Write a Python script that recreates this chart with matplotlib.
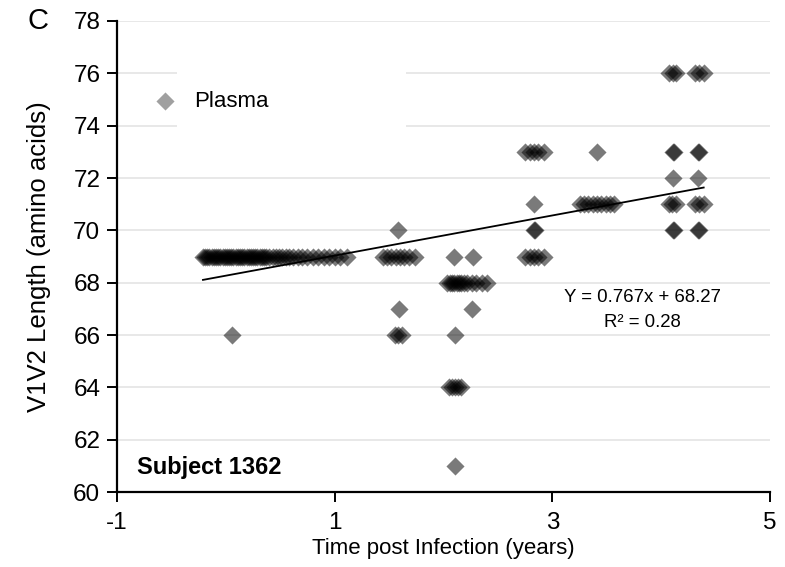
import matplotlib
matplotlib.use("Agg")
import matplotlib.pyplot as plt
from matplotlib.patches import Rectangle

plt.rcParams['font.family'] = ['Liberation Sans', 'DejaVu Sans']
plt.rcParams['axes.unicode_minus'] = False

# plasma V1V2 lengths (years post infection, amino acids)
x_69a = [-0.21, -0.19, -0.17, -0.15, -0.13, -0.11, -0.09, -0.07, -0.05, -0.03,
         -0.01, 0.01, 0.03, 0.05, 0.07, 0.09, 0.11, 0.13, 0.15, 0.17, 0.19,
         0.21, 0.23, 0.25, 0.27, 0.29, 0.31, 0.33, 0.35, 0.37, 0.40, 0.43,
         0.46, 0.49, 0.52, 0.55, 0.58, 0.62, 0.66, 0.70, 0.75, 0.80, 0.85,
         0.90, 0.95, 1.00, 1.05, 1.11]
x_66a = [0.06]
x_69b = [1.44, 1.48, 1.52, 1.56, 1.60, 1.64, 1.68, 1.74]
x_70b = [1.58]
x_67b = [1.59, 2.26]
x_66b = [1.55, 1.58, 1.62, 2.11]
x_69c = [2.10, 2.27]
x_68c = [2.03, 2.06, 2.08, 2.10, 2.12, 2.14, 2.16, 2.19, 2.22, 2.26, 2.30, 2.35, 2.40]
x_64c = [2.05, 2.08, 2.11, 2.13, 2.16]
x_61c = [2.11]
x_73d = [2.75, 2.79, 2.83, 2.87, 2.92, 3.41]
x_71d = [2.83]
x_70d = [2.83, 2.84]
x_69d = [2.75, 2.79, 2.83, 2.87, 2.92]
x_71e = [3.25, 3.29, 3.33, 3.37, 3.41, 3.45, 3.49, 3.53, 3.57]
x_76f = [4.07, 4.11, 4.14, 4.31, 4.35, 4.39]
x_73f = [4.11, 4.12, 4.34, 4.35]
x_72f = [4.11, 4.34]
x_71f = [4.07, 4.10, 4.14, 4.31, 4.35, 4.39]
x_70f = [4.11, 4.12, 4.34, 4.35]

groups = [(x_69a, 69), (x_66a, 66), (x_69b, 69), (x_70b, 70), (x_67b, 67),
          (x_66b, 66), (x_69c, 69), (x_68c, 68), (x_64c, 64), (x_61c, 61),
          (x_73d, 73), (x_71d, 71), (x_70d, 70), (x_69d, 69), (x_71e, 71),
          (x_76f, 76), (x_73f, 73), (x_72f, 72), (x_71f, 71), (x_70f, 70)]

slope = 0.767
intercept = 68.27
r2 = 0.28

xs, ys = [], []
for gx, gy in groups:
    xs += gx
    ys += [gy] * len(gx)

fig = plt.figure(figsize=(7.85, 5.67), dpi=100)
ax = fig.add_axes([0.149, 0.132, 0.832, 0.831])

# semi transparent diamonds so overlapping ones get darker
ax.scatter(xs, ys, marker='D', s=85, color='black', alpha=0.52,
           linewidths=0, zorder=3)

# trend line over data range
x0, x1 = min(xs), max(xs)
ax.plot([x0, x1], [slope * x0 + intercept, slope * x1 + intercept],
        color='black', lw=1.3, zorder=4)

ax.set_xlim(-1, 5)
ax.set_ylim(60, 78)
ax.set_xticks([-1, 1, 3, 5])
ax.set_yticks(range(60, 79, 2))
ax.yaxis.grid(True, color='#e4e4e4', lw=1.2, zorder=0)
ax.set_axisbelow(True)
for s in ['top', 'right']:
    ax.spines[s].set_visible(False)
for s in ['left', 'bottom']:
    ax.spines[s].set_linewidth(1.6)
ax.tick_params(axis='both', labelsize=17.5, width=1.4, length=7, direction='out')
ax.tick_params(axis='y', pad=5)
ax.tick_params(axis='x', pad=7)

ax.set_xlabel('Time post Infection (years)', fontsize=16, labelpad=3)
ax.set_ylabel('V1V2 Length (amino acids)', fontsize=18.5, labelpad=16)

# white legend area hiding the gridlines
ax.add_patch(Rectangle((0.092, 0.773), 0.35, 0.123, transform=ax.transAxes,
                       facecolor='white', edgecolor='none', zorder=1))
ax.scatter([], [], marker='D', s=85, color='#a0a0a0', linewidths=0,
           label='Plasma')
ax.legend(loc='upper left', bbox_to_anchor=(0.026, 0.87), frameon=False,
          fontsize=16, handletextpad=0.3, borderaxespad=0)

ax.text(0.031, 0.053, 'Subject 1362', transform=ax.transAxes, fontsize=17,
        fontweight='bold', va='center')
ax.text(3.83, 67.45, f'Y = {slope}x + {intercept}', fontsize=13.4, ha='center', va='center')
ax.text(3.83, 66.5, f'R\u00b2 = {r2}', fontsize=13.4, ha='center', va='center')

fig.text(0.035, 0.963, 'C', fontsize=21, va='center')

fig.savefig('out.png', dpi=100)
